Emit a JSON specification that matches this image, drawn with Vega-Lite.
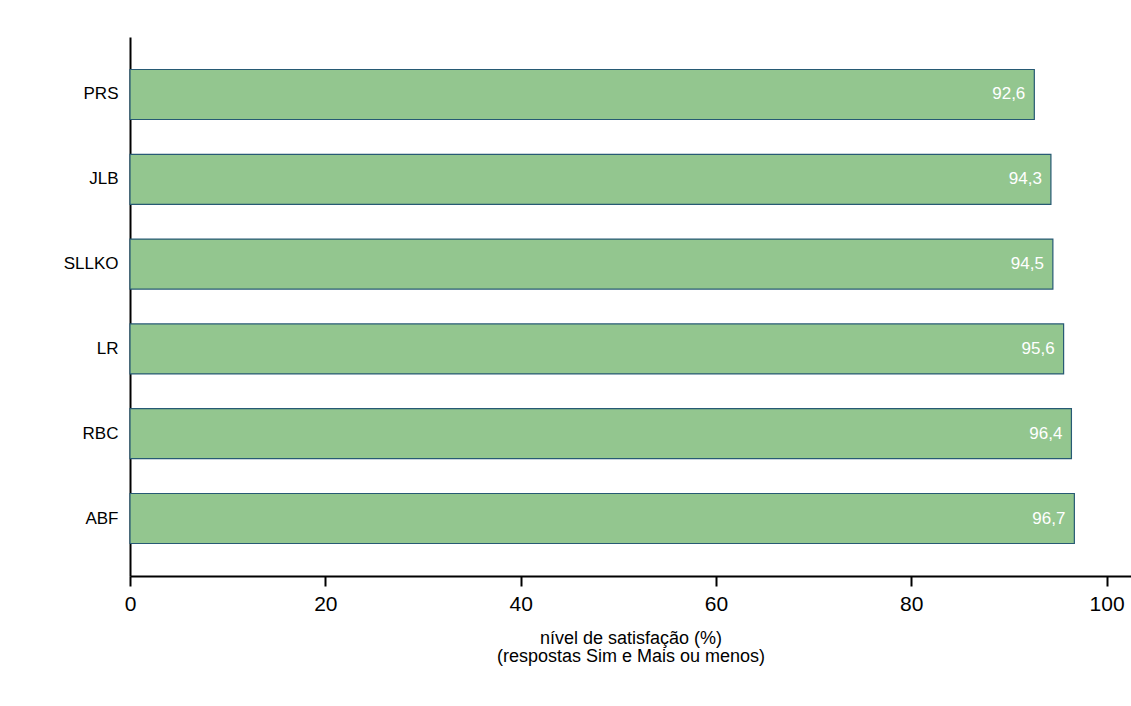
{
  "$schema": "https://vega.github.io/schema/vega-lite/v6.json",
  "width": 1001,
  "height": 539,
  "autosize": {"type": "none"},
  "padding": {"left": 130, "top": 37, "right": 0, "bottom": 130},
  "background": "white",
  "config": {
    "view": {"stroke": null},
    "font": "Liberation Sans",
    "locale": {"number": {"decimal": ",", "thousands": ".", "grouping": [3], "currency": ["", ""]}}
  },
  "data": {
    "values": [
      {"unidade": "PRS", "valor": 92.6},
      {"unidade": "JLB", "valor": 94.3},
      {"unidade": "SLLKO", "valor": 94.5},
      {"unidade": "LR", "valor": 95.6},
      {"unidade": "RBC", "valor": 96.4},
      {"unidade": "ABF", "valor": 96.7}
    ]
  },
  "encoding": {
    "y": {
      "field": "unidade",
      "type": "nominal",
      "sort": ["PRS", "JLB", "SLLKO", "LR", "RBC", "ABF"],
      "scale": {"paddingInner": 0.41, "paddingOuter": 0.383},
      "axis": {
        "title": null,
        "ticks": false,
        "domainColor": "black",
        "domainWidth": 2,
        "labelFontSize": 17,
        "labelColor": "black",
        "labelPadding": 12,
        "labelFont": "Liberation Sans"
      }
    },
    "x": {
      "field": "valor",
      "type": "quantitative",
      "scale": {"domain": [0, 102.5], "nice": false},
      "axis": {
        "values": [0, 20, 40, 60, 80, 100],
        "format": "d",
        "labelFlush": false,
        "title": ["nível de satisfação (%)", "(respostas Sim e Mais ou menos)"],
        "titleFontSize": 18,
        "titleLineHeight": 18,
        "titleFontWeight": "normal",
        "titleColor": "black",
        "titlePadding": 15,
        "titleFont": "Liberation Sans",
        "grid": false,
        "domainColor": "black",
        "domainWidth": 2,
        "tickColor": "black",
        "tickWidth": 2,
        "tickSize": 10,
        "labelFontSize": 21,
        "labelColor": "black",
        "labelPadding": 7,
        "labelFont": "Liberation Sans"
      }
    }
  },
  "layer": [
    {
      "mark": {"type": "bar", "fill": "#93c68f", "stroke": "#275a74", "strokeWidth": 1.2}
    },
    {
      "mark": {"type": "text", "align": "right", "baseline": "middle", "dx": -9, "color": "white", "fontSize": 17, "font": "Liberation Sans"},
      "encoding": {
        "text": {"field": "valor", "type": "quantitative", "format": ".1f"}
      }
    }
  ]
}
